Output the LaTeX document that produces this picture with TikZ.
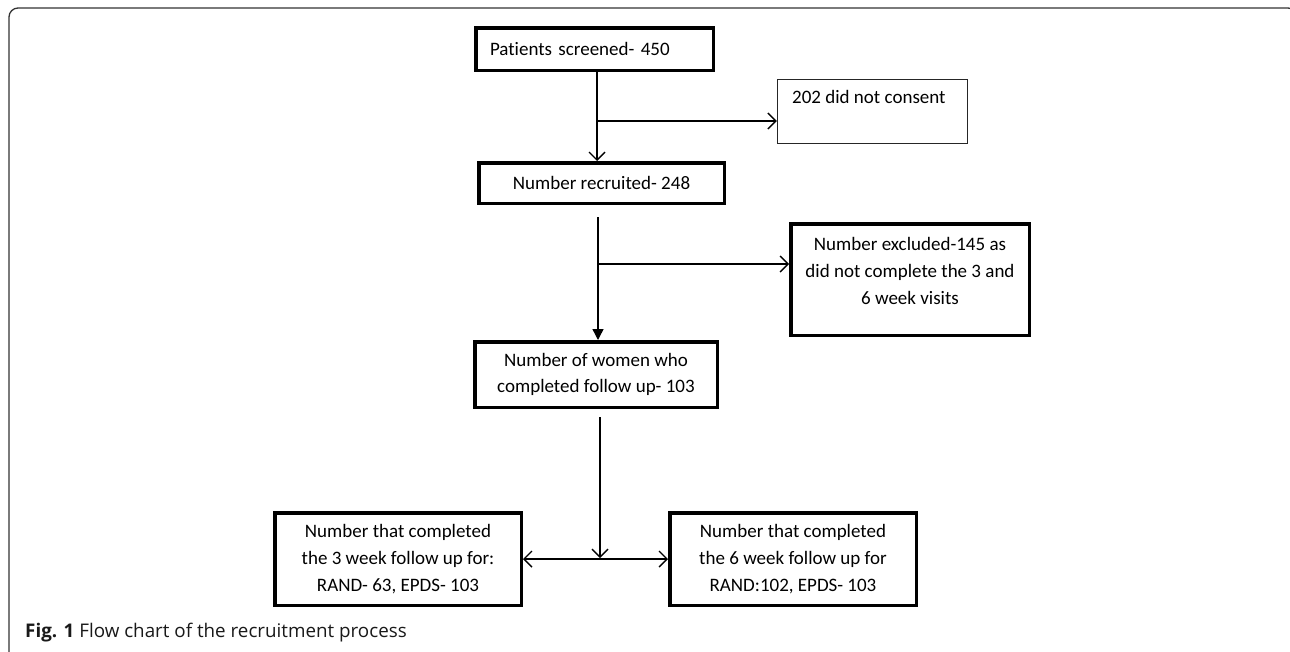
\documentclass[tikz,border=0pt]{standalone}
\usepackage{fontspec}
\setmainfont[Ligatures=NoCommon]{Carlito}
\newfontfamily\capfont{Open Sans}
\usetikzlibrary{arrows.meta,calc}
\begin{document}
\begin{tikzpicture}[x=1pt,y=-1pt,
  boxfont/.style={font=\fontsize{19}{26.7}\selectfont},
  thickbox/.style={draw=black, line width=3.5pt, inner sep=0pt, boxfont, align=center},
  thinbox/.style={draw=black!85, line width=1.2pt, inner sep=0pt},
  lbl/.style={boxfont, inner sep=0pt},
  conn/.style={draw=black, line width=1.4pt},
  openhead/.style={-{Straight Barb[length=8pt,width=16pt,line width=1.4pt]}},
  bothhead/.style={{Straight Barb[length=8pt,width=16pt,line width=1.4pt]}-{Straight Barb[length=8pt,width=16pt,line width=1.4pt]}},
  filledhead/.style={-{Triangle[length=11pt,width=11pt]}}
]
\useasboundingbox (0,0) rectangle (1290,651);
% frame
\draw[line width=1.3pt, black!80, rounded corners=9pt] (9,8) rectangle (1297,668);

% boxes
\node[thickbox, minimum width=237.5pt, minimum height=42.5pt, text width=209pt, align=left] (b1) at (594.5,49) {Pat\kern0pt ients screened- 450};
\node[thinbox, minimum width=190pt, minimum height=64pt] (b202) at (872.5,111.5) {};
\node[lbl, anchor=base west] (t202) at (792,103) {202 did not consent};
\node[thickbox, minimum width=245.5pt, minimum height=40.5pt] (b2) at (601.5,183) {Number recruited- 248};
\node[thickbox, minimum width=238.5pt, minimum height=111.5pt] (ex) at (910,279.5) {};
\node[lbl, align=center] (tex) at (910,271) {Number excluded-145 as\\did not complete the 3 and\\6 week visits};
\node[thickbox, minimum width=242.5pt, minimum height=65.5pt] (b3) at (596,374.5) {Number of women who\\completed follow up- 103};
\node[thickbox, minimum width=246.5pt, minimum height=92.5pt] (lb) at (398,559) {Number that completed\\the 3 week follow up for:\\RAND- 63, EPDS- 103};
\node[thickbox, minimum width=246.5pt, minimum height=92.5pt] (rb) at (793,559) {Number that completed\\the 6 week follow up for\\RAND:102, EPDS- 103};

% connectors
\coordinate (xa) at (597,0);
\coordinate (j1) at (597,121);
\coordinate (xb) at (598,0);
\coordinate (j2) at (597,264);
\coordinate (m) at (600,558);
\draw[conn, openhead] (b1.south -| xa) -- (b2.north -| xa);
\draw[conn, openhead] (j1) -- (b202.west |- j1);
\draw[conn, filledhead, shorten <=12pt] (b2.south -| xb) -- (b3.north -| xb);
\draw[conn, openhead] (j2) -- (ex.west |- j2);
\draw[conn, openhead, shorten <=8pt] (b3.south -| m) -- (m);
\draw[conn, bothhead] (lb.east) -- (rb.west);

% caption
\node[anchor=base west, inner sep=0pt, text=black!90, font=\capfont\fontsize{18.8}{22}\selectfont] (cap) at (25,637) {\textbf{Fig. 1} Flow chart of the recruitment process};
\end{tikzpicture}
\end{document}
